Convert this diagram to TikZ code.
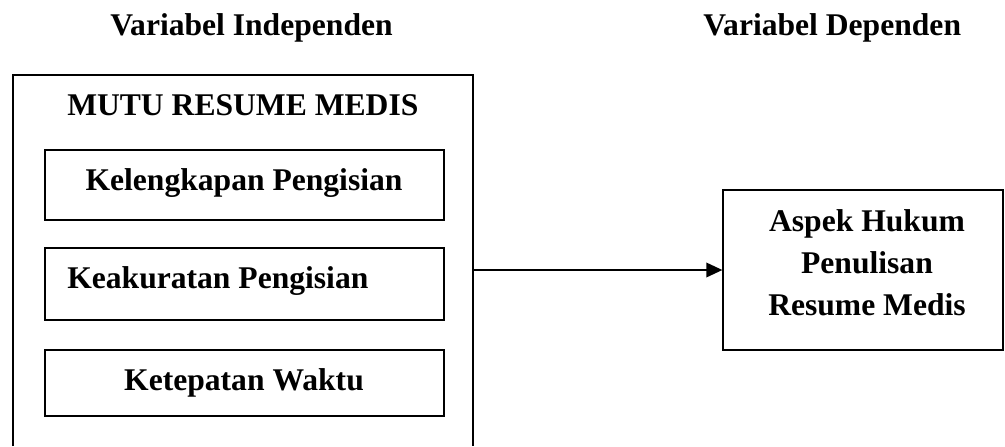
\documentclass[tikz,border=0pt]{standalone}
\usepackage{fontspec}
\setmainfont{Liberation Serif}
\usetikzlibrary{arrows.meta}
\begin{document}
\begin{tikzpicture}[x=0.75pt,y=-0.75pt,
  txt/.style={inner sep=0pt,font=\fontsize{23.7}{31.5}\selectfont\bfseries},
  boxline/.style={draw=black,line width=1pt},
  innerbox/.style={boxline,rectangle,inner sep=0pt,minimum width=299.25pt,minimum height=#1},
  conn/.style={line width=1pt,-{Triangle[length=12pt,width=11pt]}}]
\useasboundingbox (0,0) rectangle (1005,446);
% titles
\node[txt,anchor=base west] (tind) at (110,35) {Variabel Independen};
\node[txt,anchor=base west] (tdep) at (703,35) {Variabel Dependen};
% outer (open at bottom) frame
\coordinate (obl) at (13,446);
\coordinate (otl) at (13,75);
\coordinate (otr) at (473,75);
\coordinate (obr) at (473,446);
\draw[boxline] (obl) -- (otl) -- (otr) -- (obr);
\node[txt,anchor=base west] (mutu) at (67,115) {MUTU RESUME MEDIS};
% inner boxes
\node[innerbox=52.5pt] (b1) at (244.5,185) {};
\node[innerbox=54pt] (b2) at (244.5,284) {};
\node[innerbox=49.5pt] (b3) at (244.5,383) {};
\node[txt,anchor=base] (t1) at (244,190) {Kelengkapan Pengisian};
\node[txt,anchor=base west] (t2) at (67,288) {Keakuratan Pengisian};
\node[txt,anchor=base] (t3) at (244,390) {Ketepatan Waktu};
% dependent box
\node[boxline,rectangle,inner sep=0pt,minimum width=210pt,minimum height=120pt] (dep) at (863,270) {};
\node[txt,anchor=base] (d1) at (867,231) {Aspek Hukum};
\node[txt,anchor=base] (d2) at (867,273) {Penulisan};
\node[txt,anchor=base] (d3) at (867,315) {Resume Medis};
% connector
\coordinate (src) at (473,270);
\draw[conn] (src) -- (dep.west);
\end{tikzpicture}
\end{document}
